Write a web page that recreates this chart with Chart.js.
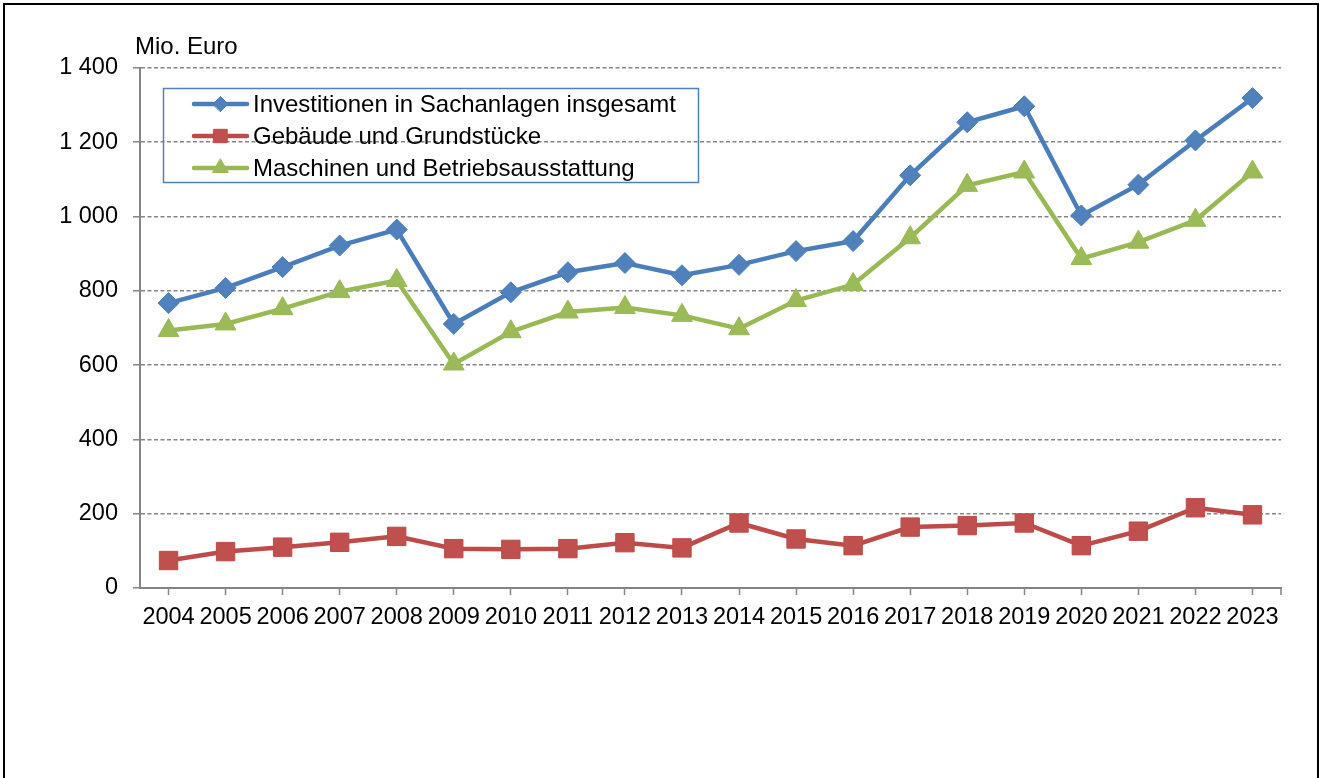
<!DOCTYPE html>
<html><head><meta charset="utf-8">
<script src="https://cdn.jsdelivr.net/npm/chart.js@4/dist/chart.umd.min.js"></script>
<style>
html,body{margin:0;padding:0;background:#fff;overflow:hidden}
#wrap{position:relative;width:1319px;height:778px}
#frame{position:absolute;left:3px;top:3px;width:1316px;height:820px;border:2px solid #000;box-sizing:border-box;pointer-events:none}
canvas{display:block}
</style></head><body>
<div id="wrap"><canvas id="c" width="1319" height="778"></canvas><div id="frame"></div></div>
<script>
const years = ['2004','2005','2006','2007','2008','2009','2010','2011','2012','2013','2014','2015','2016','2017','2018','2019','2020','2021','2022','2023'];
const seriesNames = ['Investitionen in Sachanlagen insgesamt','Gebäude und Grundstücke','Maschinen und Betriebsausstattung'];
const totalValues    = [767, 808, 864, 922, 965, 711, 796, 850, 875, 842, 870, 907, 934, 1111, 1254, 1297, 1003, 1086, 1205, 1319];
const buildingValues = [ 74,  98, 110, 123, 139, 106, 104, 106, 122, 108, 175, 132, 114,  164,  168,  175,  114,  153,  216,  197];
const machineValues  = [693, 711, 752, 798, 828, 603, 690, 743, 755, 734, 698, 774, 817,  943, 1084, 1120,  887,  931,  990, 1120];
const yTickValues = [0, 200, 400, 600, 800, 1000, 1200, 1400];
const yUnitLabel = 'Mio. Euro';

const FONT = '"Liberation Sans", Arial, sans-serif';
const GRID = '#858585';

const fmt = v => String(v).replace(/\B(?=(\d{3})+(?!\d))/g, ' ');

const overlay = {
  id: 'overlay',
  afterDraw(chart) {
    const ctx = chart.ctx;
    ctx.save();
    ctx.fillStyle = '#000';
    ctx.font = '24px ' + FONT;
    ctx.textAlign = 'left';
    ctx.textBaseline = 'middle';
    ctx.fillText(yUnitLabel, 135, 47);
    ctx.strokeStyle = '#4f81bd';
    ctx.lineWidth = 1.5;
    ctx.strokeRect(163.5, 88.5, 535, 94);
    const legendRadius = [7.5, 9.5, 9];
    chart.data.datasets.forEach((ds, i) => {
      const y = 104 + i * 32;
      ctx.save();
      ctx.strokeStyle = ds.borderColor;
      ctx.lineWidth = 4.5;
      ctx.lineCap = 'round';
      ctx.beginPath();
      ctx.moveTo(194, y);
      ctx.lineTo(247, y);
      ctx.stroke();
      ctx.fillStyle = ds.pointBackgroundColor;
      ctx.strokeStyle = ds.pointBorderColor;
      ctx.lineWidth = 1;
      Chart.helpers.drawPoint(ctx, {pointStyle: ds.pointStyle, radius: legendRadius[i], rotation: 0, borderWidth: 1}, 220.5, y);
      ctx.restore();
      ctx.fillStyle = '#000';
      ctx.font = '24px ' + FONT;
      ctx.textAlign = 'left';
      ctx.textBaseline = 'middle';
      ctx.fillText(ds.label, 253, y + 1);
    });
    const xa = chart.scales.x;
    ctx.strokeStyle = GRID;
    ctx.lineWidth = 1.5;
    ctx.beginPath();
    ctx.moveTo(xa.right, xa.top);
    ctx.lineTo(xa.right, xa.top + 7);
    ctx.stroke();
    ctx.restore();
  }
};

new Chart(document.getElementById('c'), {
  type: 'line',
  data: {
    labels: years,
    datasets: [
      {label: seriesNames[0], data: totalValues, borderColor: '#4a7ebb', backgroundColor: '#4f81bd',
       pointBackgroundColor: '#4f81bd', pointBorderColor: '#4a7ebb', borderWidth: 4.5,
       pointStyle: 'rectRot', pointRadius: 10.5, pointBorderWidth: 1, tension: 0},
      {label: seriesNames[1], data: buildingValues, borderColor: '#be4b48', backgroundColor: '#c0504d',
       pointBackgroundColor: '#c0504d', pointBorderColor: '#be4b48', borderWidth: 4.5,
       pointStyle: 'rect', pointRadius: 13, pointBorderWidth: 1, tension: 0},
      {label: seriesNames[2], data: machineValues, borderColor: '#98b954', backgroundColor: '#9bbb59',
       pointBackgroundColor: '#9bbb59', pointBorderColor: '#98b954', borderWidth: 4.5,
       pointStyle: 'triangle', pointRadius: 12, pointBorderWidth: 1, tension: 0}
    ]
  },
  options: {
    responsive: false,
    animation: false,
    devicePixelRatio: 1,
    layout: {padding: {left: 0, top: 68, right: 38, bottom: 0}},
    plugins: {legend: {display: false}, tooltip: {enabled: false}, title: {display: false}},
    scales: {
      x: {
        offset: true,
        afterFit: s => { s.height = 190; },
        grid: {display: true, drawOnChartArea: false, drawTicks: true, tickLength: 7, offset: false,
               tickColor: GRID, tickWidth: 1.5},
        border: {display: true, color: GRID, width: 2},
        ticks: {autoSkip: false, maxRotation: 0, minRotation: 0, padding: 8, color: '#000',
                font: {family: FONT, size: 23.5}}
      },
      y: {
        min: 0, max: 1400,
        afterFit: s => { s.width = 140; },
        afterBuildTicks: s => { s.ticks = yTickValues.map(v => ({value: v})); },
        grid: {color: GRID, lineWidth: 1.6, drawTicks: true, tickLength: 7, tickColor: GRID, tickWidth: 1.5},
        border: {display: true, color: GRID, width: 2, dash: [4, 2.5]},
        ticks: {padding: 15, color: '#000', font: {family: FONT, size: 23.5}, callback: v => fmt(v)}
      }
    }
  },
  plugins: [overlay]
});
</script>
</body></html>
